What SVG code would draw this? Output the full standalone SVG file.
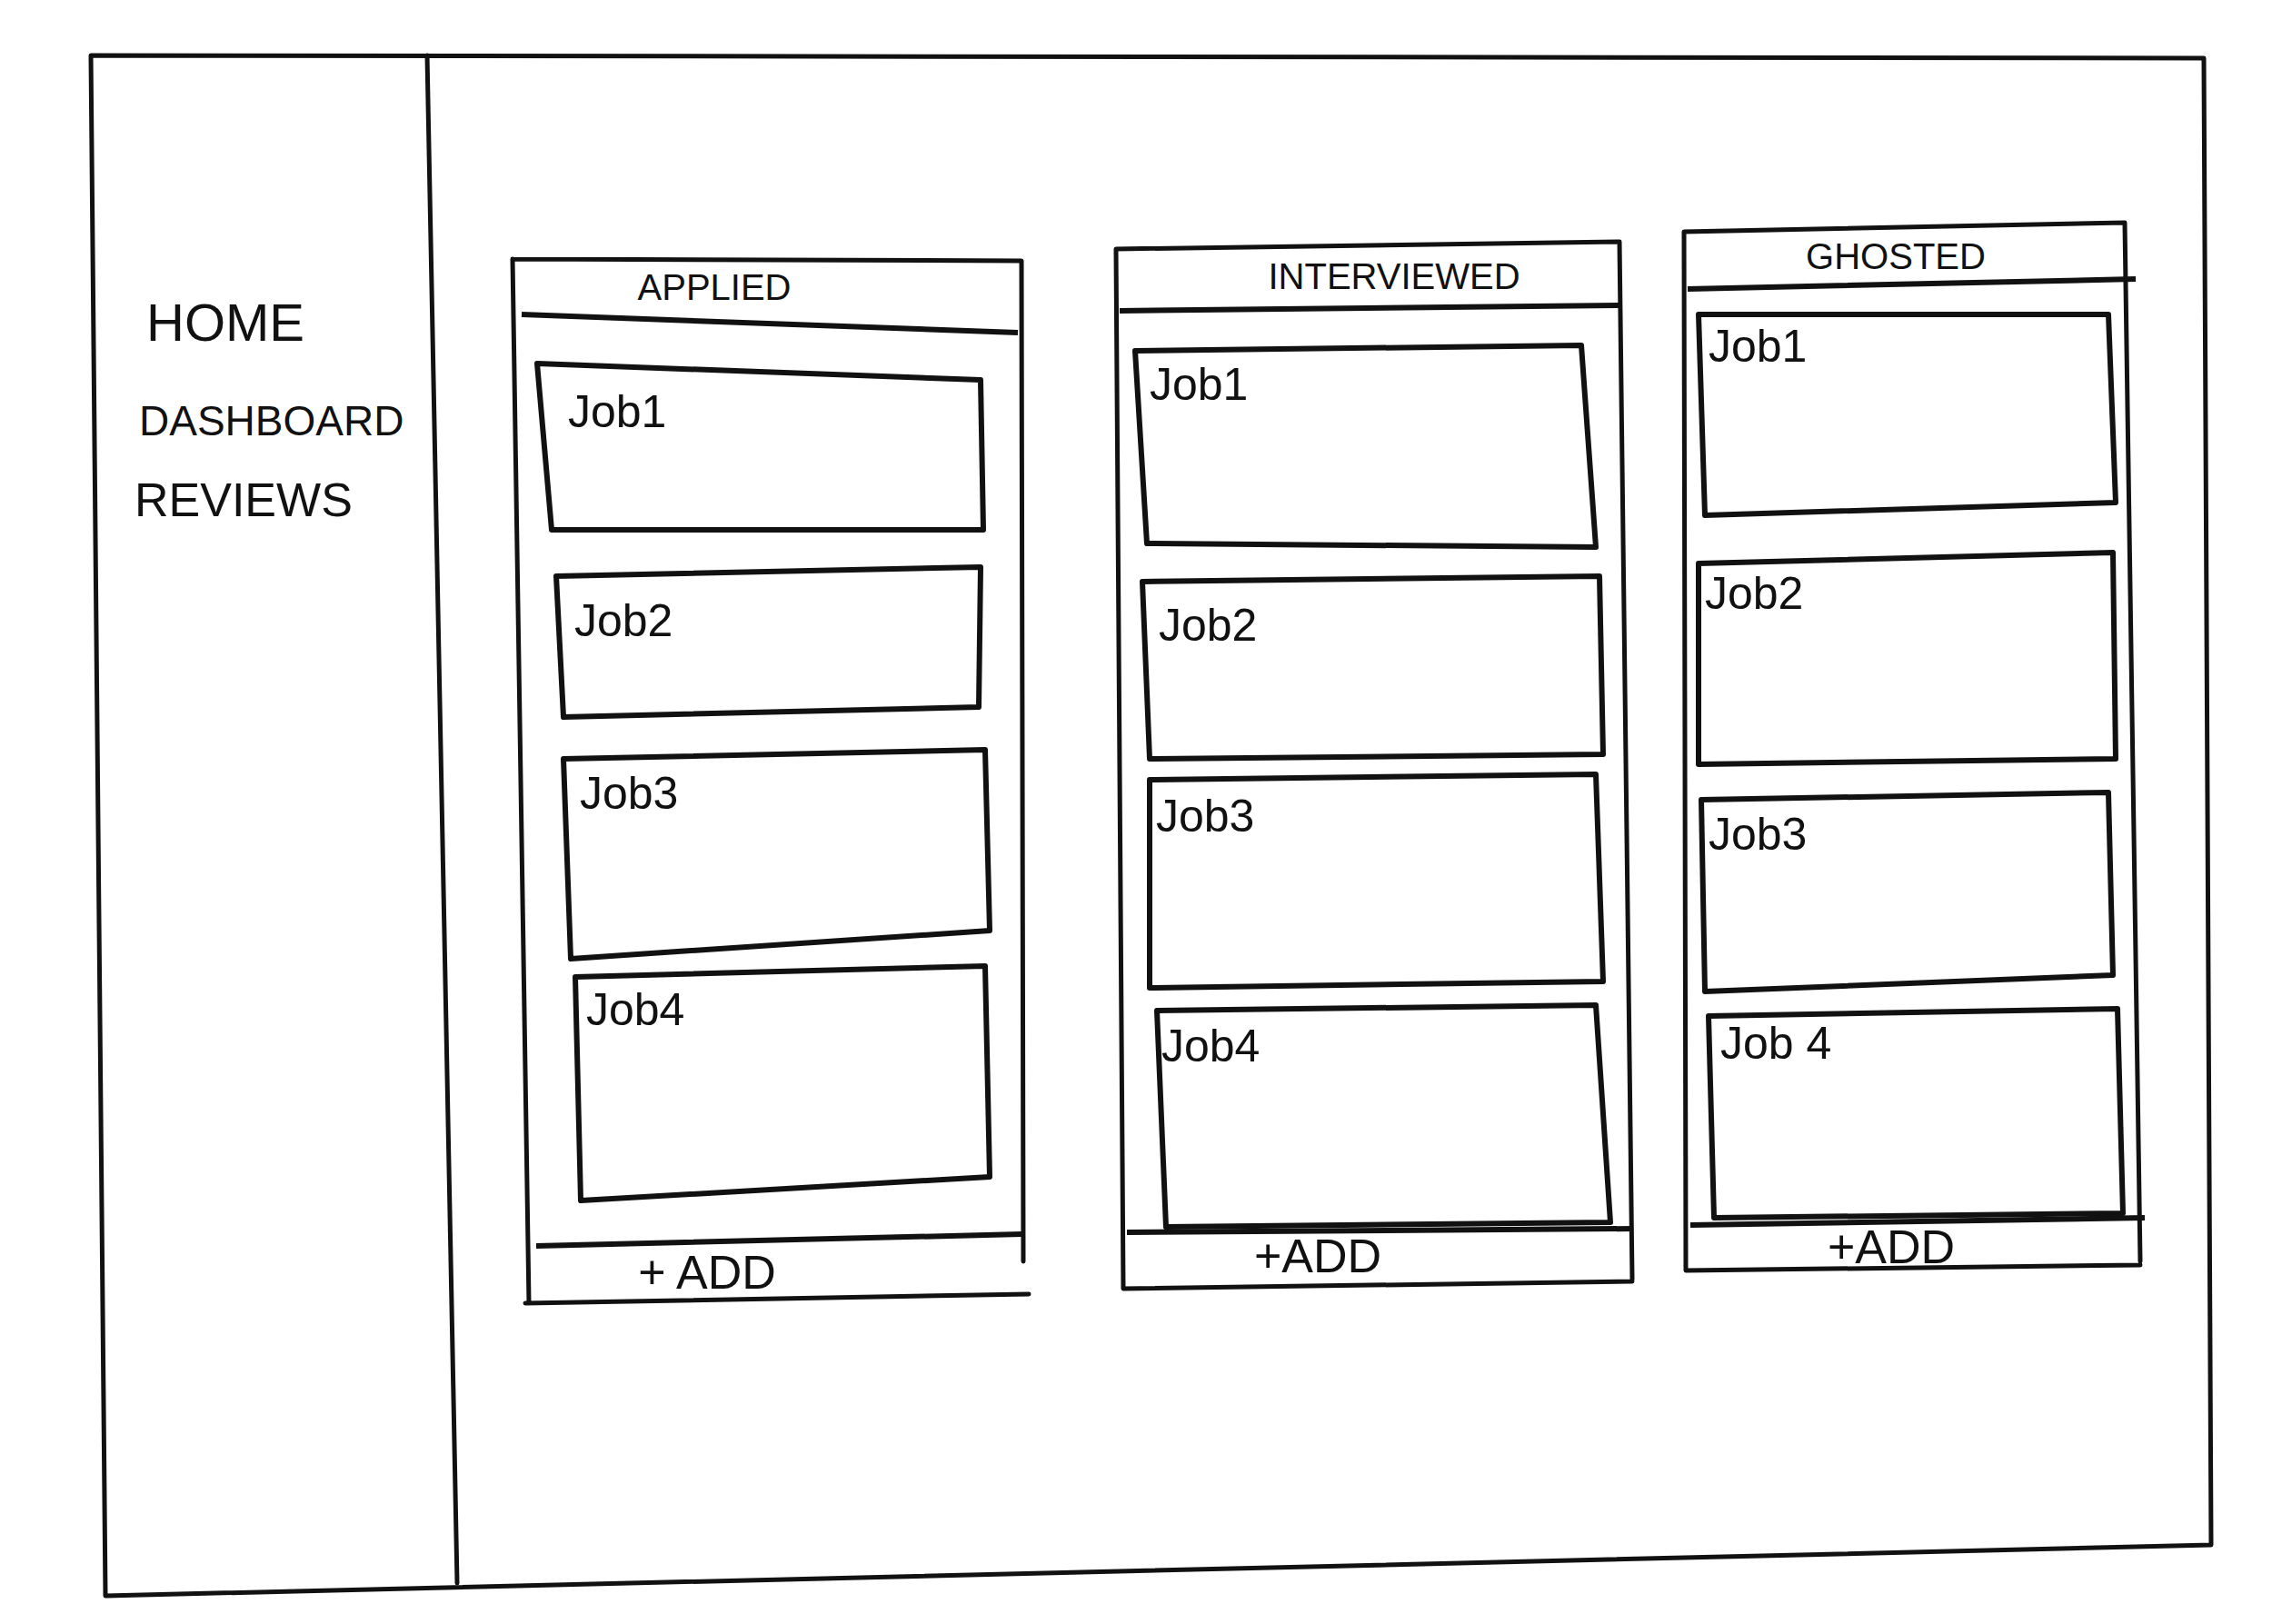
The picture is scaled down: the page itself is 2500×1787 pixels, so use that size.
<svg xmlns="http://www.w3.org/2000/svg" width="2500" height="1787" viewBox="0 0 2500 1787">
<style>
.l{fill:none;stroke:#111;stroke-width:5;stroke-linecap:round;stroke-linejoin:round}
.c{fill:none;stroke:#111;stroke-width:6;stroke-linejoin:round}
text{font-family:"Liberation Sans",Arial,sans-serif;fill:#111}
.m{font-size:58px}
.h{font-size:40px;text-anchor:middle}
.j{font-size:50px}
.a{font-size:52px;text-anchor:middle}
</style>
<rect width="2500" height="1787" fill="#fff"/>
<g id="frame">
<path class="l" d="M100,61 L2425,64 L2433,1700 L116,1756 Z"/>
<path class="l" d="M470,61 L503,1742"/>
</g>
<g id="menu">
<text class="m" x="161" y="375">HOME</text>
<text class="m" x="153" y="479" style="font-size:46px">DASHBOARD</text>
<text class="m" x="148" y="568" style="font-size:52px">REVIEWS</text>
</g>
<g id="col-applied">
<path class="l" d="M564,285 L1124,287 L1126,1388 M564,285 L582,1434 M578,1434 L1132,1424"/>
<path class="c" d="M574,346 L1120,366 M590,1371 L1124,1358"/>
<text class="h" x="786" y="330">APPLIED</text>
<path class="c" d="M591,400 L1079,418 L1082,583 L607,583 Z"/>
<text class="j" x="625" y="470">Job1</text>
<path class="c" d="M612,634 L1079,624 L1077,778 L620,789 Z"/>
<text class="j" x="632" y="700">Job2</text>
<path class="c" d="M620,835 L1084,825 L1089,1024 L628,1055 Z"/>
<text class="j" x="638" y="890">Job3</text>
<path class="c" d="M633,1075 L1084,1063 L1089,1295 L639,1321 Z"/>
<text class="j" x="645" y="1128">Job4</text>
<text class="a" x="778" y="1418">+ ADD</text>
</g>
<g id="col-interviewed">
<path class="l" d="M1228,274 L1782,266 L1796,1408 M1228,274 L1236,1418 L1796,1410"/>
<path class="c" d="M1232,342 L1782,336 M1240,1356 L1796,1352"/>
<text class="h" x="1534" y="318">INTERVIEWED</text>
<path class="c" d="M1249,386 L1740,380 L1756,602 L1262,598 Z"/>
<text class="j" x="1265" y="440">Job1</text>
<path class="c" d="M1257,640 L1760,634 L1764,830 L1265,835 Z"/>
<text class="j" x="1275" y="705">Job2</text>
<path class="c" d="M1265,858 L1756,852 L1764,1080 L1265,1087 Z"/>
<text class="j" x="1272" y="915">Job3</text>
<path class="c" d="M1273,1112 L1756,1106 L1772,1345 L1283,1350 Z"/>
<text class="j" x="1278" y="1168">Job4</text>
<text class="a" x="1450" y="1400">+ADD</text>
</g>
<g id="col-ghosted">
<path class="l" d="M1853,255 L2338,245 L2355,1388 M1853,255 L1855,1398 L2355,1392"/>
<path class="c" d="M1857,318 L2350,307 M1860,1348 L2360,1340"/>
<text class="h" x="2086" y="296">GHOSTED</text>
<path class="c" d="M1869,346 L2320,346 L2328,553 L1876,567 Z"/>
<text class="j" x="1880" y="398">Job1</text>
<path class="c" d="M1869,620 L2325,608 L2328,835 L1869,841 Z"/>
<text class="j" x="1876" y="670">Job2</text>
<path class="c" d="M1872,880 L2320,872 L2325,1073 L1876,1091 Z"/>
<text class="j" x="1880" y="935">Job3</text>
<path class="c" d="M1880,1118 L2330,1110 L2336,1335 L1886,1340 Z"/>
<text class="j" x="1893" y="1165">Job 4</text>
<text class="a" x="2081" y="1390">+ADD</text>
</g>
</svg>
